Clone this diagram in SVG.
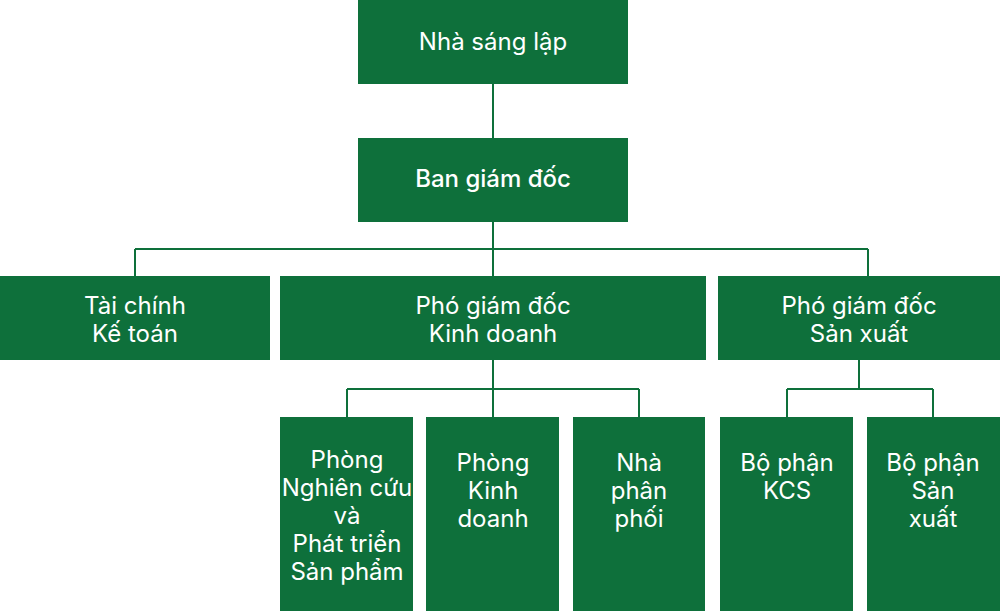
<svg xmlns="http://www.w3.org/2000/svg" width="1000" height="611" viewBox="0 0 1000 611">
<style>
.box{fill:#0e703b}
.t{font-family:Inter,"Noto Sans","DejaVu Sans",sans-serif;font-size:24px;fill:#ffffff;text-anchor:middle}
.b{font-weight:500}
.c{stroke:#0e703b;stroke-width:2;fill:none}
</style>
<rect width="1000" height="611" fill="#ffffff"/>
<g id="connectors">
<path class="c" d="M493 84V138"/>
<path class="c" d="M493 222V276M135 249H868M135 249V276M868 249V276"/>
<path class="c" d="M493 360V417M347 389H639M347 389V417M639 389V417"/>
<path class="c" d="M859 360V389M787 389H933M787 389V417M933 389V417"/>
</g>
<g id="n1"><rect class="box" x="358" y="0" width="270" height="84"/><text class="t" x="493" y="50">Nhà sáng lập</text></g>
<g id="n2"><rect class="box" x="358" y="138" width="270" height="84"/><text class="t b" x="493" y="187">Ban giám đốc</text></g>
<g id="n3"><rect class="box" x="0" y="276" width="270" height="84"/><text class="t" x="135" y="314">Tài chính</text><text class="t" x="135" y="342">Kế toán</text></g>
<g id="n4"><rect class="box" x="280" y="276" width="426" height="84"/><text class="t" x="493" y="314">Phó giám đốc</text><text class="t" x="493" y="342">Kinh doanh</text></g>
<g id="n5"><rect class="box" x="718" y="276" width="282" height="84"/><text class="t" x="859" y="314">Phó giám đốc</text><text class="t" x="859" y="342">Sản xuất</text></g>
<g id="n6"><rect class="box" x="280" y="417" width="133" height="194"/><text class="t" x="347" y="468">Phòng</text><text class="t" x="347" y="496">Nghiên cứu</text><text class="t" x="347" y="524">và</text><text class="t" x="347" y="552">Phát triển</text><text class="t" x="347" y="580">Sản phẩm</text></g>
<g id="n7"><rect class="box" x="426" y="417" width="133" height="194"/><text class="t" x="493" y="471">Phòng</text><text class="t" x="493" y="499">Kinh</text><text class="t" x="493" y="527">doanh</text></g>
<g id="n8"><rect class="box" x="573" y="417" width="132" height="194"/><text class="t" x="639" y="471">Nhà</text><text class="t" x="639" y="499">phân</text><text class="t" x="639" y="527">phối</text></g>
<g id="n9"><rect class="box" x="720" y="417" width="133" height="194"/><text class="t" x="787" y="471">Bộ phận</text><text class="t" x="787" y="499">KCS</text></g>
<g id="n10"><rect class="box" x="867" y="417" width="133" height="194"/><text class="t" x="933" y="471">Bộ phận</text><text class="t" x="933" y="499">Sản</text><text class="t" x="933" y="527">xuất</text></g>
</svg>
